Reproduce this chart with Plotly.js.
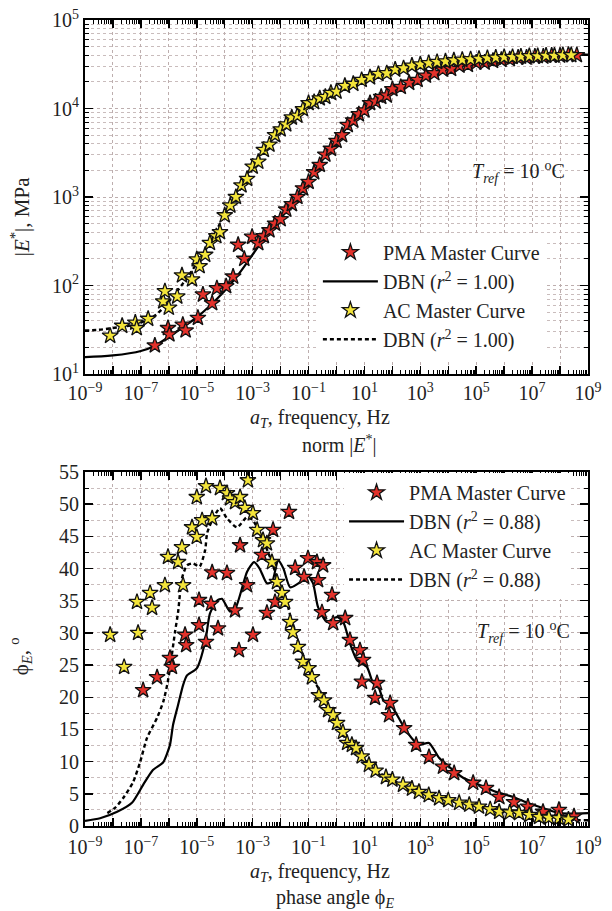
<!DOCTYPE html>
<html>
<head>
<meta charset="utf-8">
<script src="https://cdn.plot.ly/plotly-3.0.1.min.js"></script>
<style>html,body{margin:0;padding:0;background:#fff;}#chart{width:612px;height:911px;}</style>
</head>
<body>
<div id="chart"></div>
<script>
// ---------- DATA (log10 of reduced frequency, values) ----------
// Top panel: |E*| (MPa)
const dbnPmaE_logf = [-9,-8,-7,-6.5,-6,-5.5,-5,-4.5,-4,-3.5,-3,-2.5,-2,-1.5,-1,-0.5,0,0.5,1,1.5,2,2.5,3,4,5,6,7,8,9];
const dbnPmaE = [15.5,16.2,18.2,20.9,26.3,33.9,43.7,60.3,87,135,224,372,575,891,1514,2630,4169,6918,9772,12589,15849,18621,21878,28184,32359,35481,38019,39811,40738];

const dbnAcE_logf = [-9,-8.5,-8,-7.5,-7,-6.5,-6,-5.5,-5,-4.5,-4,-3.5,-3,-2.5,-2,-1.5,-1,-0.5,0,0.5,1,1.5,2,3,4,5,6,7,8,9];
const dbnAcE = [31,31.6,33.1,34.7,38,45.7,66,105,178,316,631,1148,2089,3631,5888,8128,10965,13490,15850,18620,21380,23990,26900,31620,34670,36300,38020,38900,39810,40740];

const pmaStarE_logf = [-6.5,-6.03,-5.98,-5.5,-5.4,-4.96,-4.78,-4.45,-4.28,-3.95,-3.7,-3.52,-3.3,-3.02,-2.8,-2.6,-2.4,-2.2,-2.0,-1.8,-1.6,-1.4,-1.2,-1.0,-0.8,-0.6,-0.4,-0.2,0,0.2,0.4,0.6,0.8,1.0,1.2,1.4,1.6,1.8,2.0,2.3,2.6,2.9,3.2,3.5,3.8,4.1,4.4,4.7,5.0,5.3,5.6,5.9,6.2,6.5,6.8,7.1,7.4,7.7,8.0,8.3,8.6];
const pmaStarE = [21,33,28,36,31,43,79,63,93,98,126,288,200,355,300,360,420,500,560,720,830,1000,1250,1480,1900,2300,3000,3500,4300,5000,6500,7300,8600,9500,11500,12000,13500,14000,16500,17500,19500,21000,23500,25000,27500,28000,30500,31000,33000,33000,34500,35500,36000,37500,37500,38500,38500,39500,39500,40500,40000];

const acStarE_logf = [-8.1,-7.67,-7.2,-7.15,-6.74,-6.2,-6.14,-6.0,-5.7,-5.53,-5.17,-5.0,-4.9,-4.7,-4.53,-4.3,-4.17,-4.0,-3.8,-3.6,-3.4,-3.2,-3.0,-2.8,-2.6,-2.4,-2.2,-2.0,-1.8,-1.6,-1.4,-1.2,-1.0,-0.8,-0.6,-0.4,-0.2,0,0.3,0.6,0.9,1.2,1.5,1.8,2.1,2.4,2.7,3.0,3.3,3.6,3.9,4.2,4.5,4.8,5.1,5.4,5.7,6.0,6.3,6.6,6.9,7.2,7.5,7.8,8.1,8.4];
const acStarE = [27,35,38,33,42,66,86,56,75,130,117,197,165,222,302,360,400,620,800,1000,1350,1600,2200,2500,3400,3900,5000,5800,6600,7900,8300,9800,11500,11800,13000,13500,15000,15500,18000,19000,21000,22500,24500,25000,27500,28500,30500,31500,32500,33500,34000,35000,35500,36000,36500,37000,37500,38000,38200,38500,39000,39000,39500,39500,40000,40000];

// Bottom panel: phase angle (deg)
const dbnPmaPhi_logf = [-9,-8.46,-7.85,-7.32,-6.92,-6.57,-6.2,-5.96,-5.85,-5.67,-5.49,-5.35,-5.0,-4.7,-4.53,-4.28,-4.1,-3.81,-3.6,-3.2,-2.95,-2.75,-2.49,-2.3,-2.09,-1.9,-1.66,-1.3,-1.05,-0.84,-0.66,-0.34,0.02,0.24,0.48,0.73,1.09,1.31,1.52,1.67,2.02,2.38,2.74,2.95,3.31,3.67,4.03,4.53,5.1,5.71,6.32,6.78,7.25,7.96,9];
const dbnPmaPhi = [0.8,1.2,2.2,3.6,6.4,8.7,9.9,12.6,15.7,18.8,21.9,23.4,24.5,28.6,33,35,35.3,33.3,34,39.5,41,40,37.7,38,41.3,40,37.1,37.9,39.0,37.7,34.0,31.7,32.5,31.7,28.4,25.8,24.7,22.2,21.4,19.6,18.3,15.6,13.4,12.6,12.9,10.6,9.2,7.5,6.4,5.3,4.5,3.7,3.0,2.0,2.0];

const dbnAcPhi_logf = [-8.2,-7.93,-7.64,-7.28,-7.03,-6.78,-6.42,-6.2,-6.06,-5.96,-5.78,-5.67,-5.53,-5.35,-5.13,-4.9,-4.7,-4.63,-4.45,-4.17,-3.92,-3.56,-3.2,-2.99,-2.63,-2.31,-2.02,-1.77,-1.56,-1.3,-1.13,-0.88,-0.59,-0.3,0.02,0.38,0.70,1.16,1.77,2.38,2.95,3.67,4.39,5.1,5.82,6.53,7.25,7.96,8.68,9];
const dbnAcPhi = [2.0,2.8,4.3,6.8,9.9,13.7,16.8,19.3,21.9,24.5,30.1,33.2,38.5,40.5,40.8,40.3,42.9,45.5,47.5,49.4,47.8,46.4,48.0,47.5,44.4,41.0,37.0,34.6,31.0,27.8,25.8,23.1,21.0,18.2,16.0,13.2,12.1,9.5,7.6,6.4,5.3,4.3,3.6,3.0,2.2,2.0,1.4,1.2,0.9,0.9];

const pmaStarPhi_logf = [-6.92,-6.42,-5.96,-5.89,-5.42,-5.38,-4.92,-4.92,-4.67,-4.45,-4.49,-4.24,-3.92,-3.63,-3.49,-3.45,-3.2,-2.99,-2.67,-2.49,-2.27,-2.2,-1.7,-1.48,-1.16,-1.02,-0.7,-0.48,-0.66,-0.16,-0.52,-0.12,0.31,0.48,0.84,0.95,0.91,1.45,1.38,1.92,1.88,2.42,2.85,3.31,3.81,4.21,4.89,5.35,5.82,6.35,6.85,7.39,7.96,8.5];
const pmaStarPhi = [21.1,23.1,26.1,24.7,29.7,28.1,31.2,35.1,28.6,39.4,34.5,30.7,39.3,33.5,27.3,43.6,37.4,29.7,42.1,33.1,46.0,34.8,48.8,40.1,38.7,41.6,41.0,40.5,38.2,35.9,33.2,31.5,32.3,28.9,27.3,25.8,22.4,22.2,19.9,19.1,17.2,15.2,12.6,10.7,9.2,8.2,6.7,5.9,4.5,3.7,3.0,2.2,2.5,1.5];

const acStarPhi_logf = [-8.1,-7.6,-7.1,-7.14,-6.6,-6.67,-6.14,-6.03,-5.67,-5.53,-5.49,-5.17,-5.0,-5.0,-4.81,-4.67,-4.45,-4.17,-3.92,-3.81,-3.63,-3.45,-3.28,-3.17,-2.99,-2.84,-2.63,-2.49,-2.31,-2.13,-1.95,-1.84,-1.66,-1.56,-1.38,-1.2,-1.0,-0.88,-0.63,-0.45,-0.3,-0.12,0.02,0.23,0.38,0.55,0.70,0.9,1.16,1.4,1.77,2.0,2.38,2.7,2.95,3.3,3.67,4.0,4.39,4.75,5.1,5.5,5.82,6.2,6.53,6.9,7.25,7.6,7.96,8.3];
const acStarPhi = [29.7,24.7,30.0,34.8,33.9,36.2,37.4,41.8,41.0,43.3,37.4,46.4,44.9,51.1,47.5,52.8,47.8,52.5,51.7,50.9,50.3,51.1,49.4,53.7,48.6,46.0,44.4,43.9,41.0,37.9,36.2,34.8,31.7,30.1,27.8,25.5,24.5,23.1,20.3,19.5,18.0,17.2,16.0,14.6,12.9,12.6,12.1,10.8,9.5,8.6,7.6,7.2,6.4,5.8,5.3,4.8,4.3,4.0,3.6,3.3,3.0,2.6,2.2,2.1,2.0,1.7,1.4,1.3,1.2,1.0];

const xTickExps = [-9,-8,-7,-6,-5,-4,-3,-2,-1,0,1,2,3,4,5,6,7,8,9];
const yTickExps = [1,2,3,4,5];
const legendNames = ['PMA Master Curve', 'DBN (<i>r</i><sup>2</sup> = 1.00)', 'AC Master Curve', 'DBN (<i>r</i><sup>2</sup> = 1.00)'];
const legendNames2 = ['PMA Master Curve', 'DBN (<i>r</i><sup>2</sup> = 0.88)', 'AC Master Curve', 'DBN (<i>r</i><sup>2</sup> = 0.88)'];

// ---------- helpers ----------
const pw = a => a.map(v => Math.pow(10, v));
const FONT = "'Liberation Serif', 'DejaVu Serif', serif";
const RED = '#e3322b', YEL = '#f3e43a';
const sup = n => '10<sup>' + String(n).replace('-', '\u2212') + '</sup>';

const xTickVals = xTickExps.map(e => Math.pow(10, e));
const xTickText = xTickExps.map(e => (Math.abs(e) % 2 === 1) ? sup(e) : '');
const xMinor = [];
for (let e = -9; e < 9; e++) for (let k = 2; k <= 9; k++) xMinor.push(k * Math.pow(10, e));
const yMinor = [];
for (let e = 1; e < 5; e++) for (let k = 2; k <= 9; k++) yMinor.push(k * Math.pow(10, e));

const starMarker = c => ({symbol: 'star', size: 12, color: c, line: {color: '#111', width: 1.3}});

const traces = [
  {x: pw(dbnPmaE_logf), y: dbnPmaE, mode: 'lines', line: {color: '#000', width: 2.2, shape: 'spline'}, name: legendNames[1], legend: 'legend', legendrank: 2, xaxis: 'x', yaxis: 'y'},
  {x: pw(dbnAcE_logf), y: dbnAcE, mode: 'lines', line: {color: '#000', width: 2.4, dash: '4px,3px', shape: 'spline'}, name: legendNames[3], legend: 'legend', legendrank: 4, xaxis: 'x', yaxis: 'y'},
  {x: pw(pmaStarE_logf), y: pmaStarE, mode: 'markers', marker: starMarker(RED), name: legendNames[0], legend: 'legend', legendrank: 1, xaxis: 'x', yaxis: 'y'},
  {x: pw(acStarE_logf), y: acStarE, mode: 'markers', marker: starMarker(YEL), name: legendNames[2], legend: 'legend', legendrank: 3, xaxis: 'x', yaxis: 'y'},

  {x: pw(dbnPmaPhi_logf), y: dbnPmaPhi, mode: 'lines', line: {color: '#000', width: 2.2, shape: 'spline', smoothing: 0.6}, name: legendNames2[1], legend: 'legend2', legendrank: 2, xaxis: 'x2', yaxis: 'y2'},
  {x: pw(dbnAcPhi_logf), y: dbnAcPhi, mode: 'lines', line: {color: '#000', width: 2.4, dash: '4px,3px', shape: 'spline', smoothing: 0.6}, name: legendNames2[3], legend: 'legend2', legendrank: 4, xaxis: 'x2', yaxis: 'y2'},
  {x: pw(pmaStarPhi_logf), y: pmaStarPhi, mode: 'markers', marker: starMarker(RED), name: legendNames2[0], legend: 'legend2', legendrank: 1, xaxis: 'x2', yaxis: 'y2'},
  {x: pw(acStarPhi_logf), y: acStarPhi, mode: 'markers', marker: starMarker(YEL), name: legendNames2[2], legend: 'legend2', legendrank: 3, xaxis: 'x2', yaxis: 'y2'}
];

const grid = {showgrid: true, gridcolor: '#bdaeae', gridwidth: 1, griddash: 'dot'};
const axBase = {
  showline: true, linecolor: '#000', linewidth: 2, mirror: 'ticks',
  ticks: 'inside', ticklen: 8, tickwidth: 1.5, tickcolor: '#000',
  tickfont: {family: FONT, size: 20, color: '#222'}, zeroline: false
};
const xAx = Object.assign({}, axBase, grid, {
  type: 'log', range: [-9, 9], tickmode: 'array', tickvals: xTickVals, ticktext: xTickText,
  minor: {tickmode: 'array', tickvals: xMinor, ticks: 'inside', ticklen: 4, tickwidth: 1, tickcolor: '#000', showgrid: false}
});

const annFont = {family: FONT, size: 20, color: '#222'};
const ann = (x, y, text, extra) => Object.assign({xref: 'paper', yref: 'paper', x: x, y: y, text: text, showarrow: false,
  xanchor: 'center', yanchor: 'middle', font: annFont}, extra || {});

const layout = {
  width: 612, height: 911,
  margin: {l: 85, r: 24, t: 20, b: 85},
  paper_bgcolor: '#fff', plot_bgcolor: '#fff',
  font: {family: FONT, size: 20, color: '#222'},
  xaxis: Object.assign({}, xAx, {anchor: 'y', domain: [0, 1]}),
  yaxis: Object.assign({}, axBase, grid, {
    type: 'log', range: [1, 5], domain: [0.5608, 1], anchor: 'x',
    tickmode: 'array', tickvals: yTickExps.map(e => Math.pow(10, e)), ticktext: yTickExps.map(sup),
    minor: {tickmode: 'array', tickvals: yMinor, ticks: 'inside', ticklen: 4, tickwidth: 1, tickcolor: '#000', showgrid: true, gridcolor: '#c9bcbc', griddash: 'dot', gridwidth: 1}
  }),
  xaxis2: Object.assign({}, xAx, {anchor: 'y2', domain: [0, 1], ticklabelstandoff: 2}),
  yaxis2: Object.assign({}, axBase, grid, {
    range: [0, 55], domain: [0, 0.4392], anchor: 'x2', dtick: 5, tick0: 0,
    minor: {dtick: 2.5, ticks: 'inside', ticklen: 4, tickwidth: 1, tickcolor: '#000', showgrid: true, gridcolor: '#c9bcbc', griddash: 'dot', gridwidth: 1}
  }),
  legend: {x: 0.463, y: 0.736, xanchor: 'left', yanchor: 'top', bgcolor: '#fff', borderwidth: 0,
    font: {family: FONT, size: 20, color: '#222'}, itemwidth: 55, tracegroupgap: 0},
  legend2: {x: 0.515, y: 0.438, xanchor: 'left', yanchor: 'top', bgcolor: '#fff', borderwidth: 0,
    font: {family: FONT, size: 20, color: '#222'}, itemwidth: 55, tracegroupgap: 0},
  showlegend: true,
  annotations: [
    ann(-0.128, 0.756, '|<i>E</i><sup>*</sup>|, MPa', {textangle: -90, font: {family: FONT, size: 21, color: '#222'}}),
    ann(0.467, 0.506, '<i>a</i><sub><i>T</i></sub>, frequency, Hz'),
    ann(0.505, 0.473, 'norm |<i>E</i><sup>*</sup>|'),
    ann(0.861, 0.811, '<i>T</i><sub><i>ref</i></sub> = 10 <sup>o</sup>C'),
    ann(-0.128, 0.21, '\u03d5<sub><i>E</i></sub>, <sup>o</sup>', {textangle: -90, font: {family: FONT, size: 21, color: '#222'}}),
    ann(0.467, -0.0575, '<i>a</i><sub><i>T</i></sub>, frequency, Hz'),
    ann(0.497, -0.0905, 'phase angle \u03d5<sub><i>E</i></sub>'),
    ann(0.871, 0.2407, '<i>T</i><sub><i>ref</i></sub> = 10 <sup>o</sup>C')
  ]
};

Plotly.newPlot('chart', traces, layout, {staticPlot: true, displayModeBar: false});
</script>
</body>
</html>
